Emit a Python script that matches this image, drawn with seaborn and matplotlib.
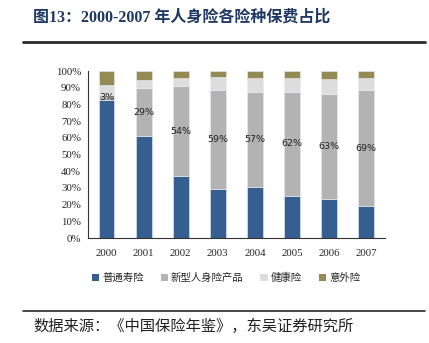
import matplotlib
matplotlib.use("Agg")
import matplotlib.pyplot as plt
import seaborn as sns
import pandas as pd
import numpy as np
from matplotlib.lines import Line2D
from matplotlib.patches import Patch

years = ["2000", "2001", "2002", "2003", "2004", "2005", "2006", "2007"]
life = [82.7, 60.8, 37.0, 29.6, 30.5, 25.4, 23.4, 19.4]
new_type = [3, 29, 54, 59, 57, 62, 63, 69]
health = [5.9, 4.9, 5.0, 7.6, 8.1, 8.3, 8.9, 7.3]
accident = [8.4, 5.3, 4.0, 3.8, 4.4, 4.3, 4.7, 4.3]
new_labels = ["3%", "29%", "54%", "59%", "57%", "62%", "63%", "69%"]
series_names = ["普通寿险", "新型人身险产品", "健康险", "意外险"]
colors = ["#365F91", "#B3B3B3", "#DDDDDD", "#948A54"]
title_text = "图13：2000-2007 年人身险各险种保费占比"
source_text = "数据来源：《中国保险年鉴》，东吴证券研究所"

sns.set_theme(style="white")
plt.rcParams['font.family'] = ['Liberation Serif', 'Noto Sans CJK SC', 'DejaVu Sans']

fig = plt.figure(figsize=(4.29, 3.43), dpi=100)
ax = fig.add_axes([0.205, 0.306, 0.692, 0.487])

df = pd.DataFrame({"year": years, "life": life, "new": new_type,
                   "health": health, "accident": accident})
cols = ["life", "new", "health", "accident"]
bottom = np.zeros(len(years))
for col, c in zip(cols, colors):
    sns.barplot(data=df, x="year", y=col, order=years, color=c, width=0.43,
                bottom=bottom, ax=ax, saturation=1, edgecolor="#E8ECF2",
                linewidth=0.4)
    if col == "new":
        for i, (b, v, lab) in enumerate(zip(bottom, df[col], new_labels)):
            ax.text(i, b + v / 2, lab, ha="center", va="center", fontsize=6.8,
                    family=['DejaVu Sans'], color="#222222")
    bottom = bottom + df[col].values

ax.set_xlim(-0.5, len(years) - 0.5)
ax.set_ylim(0, 100)
ax.set_yticks(np.arange(0, 101, 10))
ax.set_yticklabels([f"{v}%" for v in range(0, 101, 10)], fontsize=7.8)
ax.set_xlabel("")
ax.set_ylabel("")
ax.tick_params(axis="x", which="major", length=0, labelsize=7.8, pad=8)
ax.set_xticks(np.arange(-0.5, len(years), 1.0), minor=True)
ax.tick_params(axis="x", which="minor", length=4, width=0.8, color="#333333", direction="out")
ax.tick_params(axis="y", length=3, width=0.8, color="#333333", direction="out", pad=2)
for s in ["top", "right"]:
    ax.spines[s].set_visible(False)
for s in ["left", "bottom"]:
    ax.spines[s].set_color("#333333")
    ax.spines[s].set_linewidth(0.8)

handles = [Patch(facecolor=c, edgecolor="none") for c in colors]
fig.legend(handles, series_names, loc="center", bbox_to_anchor=(0.527, 1 - 278 / 343),
           ncol=4, frameon=False, handlelength=0.7, handleheight=0.7,
           handletextpad=0.3, columnspacing=1.6,
           prop={'family': ['Noto Sans CJK SC'], 'size': 7.5})

fig.text(33 / 429, 1 - 18 / 343, title_text, fontsize=11.5, fontweight="bold",
         color="#1F3864", ha="left", va="center")
fig.add_artist(Line2D([23 / 429, 425 / 429], [1 - 42 / 343] * 2, color="#2B2B2B", linewidth=2))
fig.add_artist(Line2D([23 / 429, 425 / 429], [1 - 311 / 343] * 2, color="#2B2B2B", linewidth=1.2))
fig.text(33 / 429, 1 - 326 / 343, source_text, fontsize=11, color="#222222",
         ha="left", va="center", family=['Noto Sans CJK SC'])

fig.savefig("out.png", dpi=100)
